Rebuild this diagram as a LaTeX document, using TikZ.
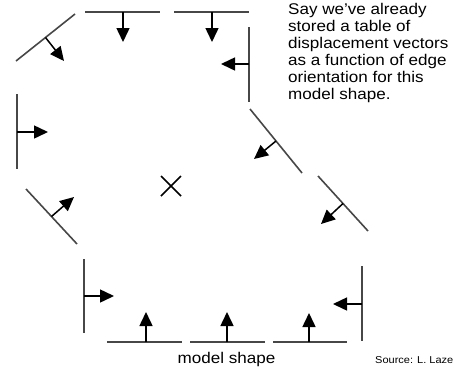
\documentclass[tikz,border=0pt]{standalone}
\usepackage{fontspec}
\setmainfont{Liberation Sans}[FakeStretch=1.1]
\usetikzlibrary{arrows.meta,calc}
\begin{document}
\begin{tikzpicture}[x=1pt,y=-1pt,
  edgeline/.style={draw=black!72, line width=1.6pt},
  vec/.style={draw=black, line width=1.5pt, -{Triangle[length=14pt,width=13pt]}},
  lbl/.style={anchor=base west, inner sep=0pt, font=\fontsize{15.5}{17}\selectfont},
  xmark/.style={draw=black, line width=1.6pt}]
\useasboundingbox (0,0) rectangle (454,367);
% edges: start, end, arrow base, arrow tip
\foreach \n/\ax/\ay/\bx/\by/\px/\py/\qx/\qy in {
  1/16/61/75/14/45.5/37.5/64/61,
  2/85/12/160/12/123/12/123/42,
  3/174/12/249/12/212/12/212/42,
  4/249/27/249/102/249/64/221/64,
  5/250/109/302/173/276/141/254/159,
  6/318/176/368/231/343/203.5/321/224,
  7/362/266/362/341/362/304/333/304,
  8/273/342/347/342/309/342/309/313,
  9/190/342/265/342/227/342/227/312,
  10/107/342/182/342/146/342/146/312,
  11/84/259/84/333/84/296/114/296,
  12/26/189/77/244/51.5/216.5/74/197,
  13/17/94/17/169/17/132/48/132}{
  \coordinate (a\n) at (\ax,\ay);
  \coordinate (b\n) at (\bx,\by);
  \coordinate (p\n) at (\px,\py);
  \coordinate (q\n) at (\qx,\qy);
  \draw[edgeline] (a\n) -- (b\n);
  \draw[vec] (p\n) -- (q\n);
}
% centre cross
\coordinate (c) at (171,186);
\draw[xmark] ($(c)+(-10,-10)$) -- ($(c)+(10,10)$);
\draw[xmark] ($(c)+(-10,10)$) -- ($(c)+(10,-10)$);
% text
\node[lbl] (t1) at (288,14) {Say we’ve already};
\node[lbl] (t2) at (288,31) {stored a table of};
\node[lbl] (t3) at (288,48) {displacement vectors};
\node[lbl] (t4) at (288,65) {as a function of edge};
\node[lbl] (t5) at (288,82) {orientation for this};
\node[lbl] (t6) at (288,99) {model shape.};
\node[anchor=base, inner sep=0pt, font=\fontsize{15.5}{17}\selectfont] (cap) at (226.5,363) {model shape};
\node[anchor=base west, inner sep=0pt, font=\fontsize{10}{12}\selectfont] (src) at (375,363) {Source: L. Laze};
\end{tikzpicture}
\end{document}
